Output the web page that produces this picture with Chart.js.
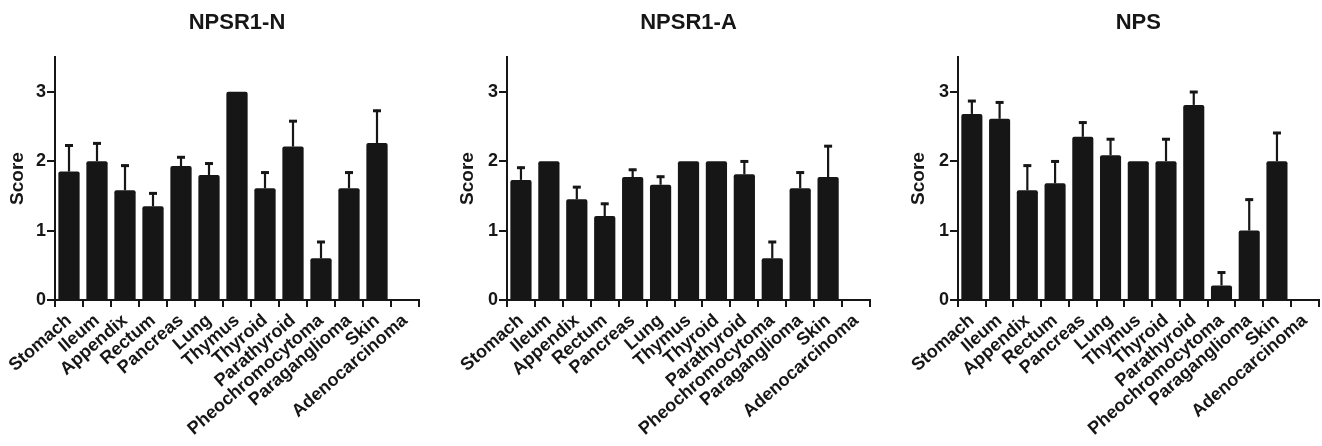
<!DOCTYPE html>
<html>
<head>
<meta charset="utf-8">
<script src="https://cdn.jsdelivr.net/npm/chart.js@4.4.0/dist/chart.umd.min.js"></script>
<style>
  body { margin: 0; background: #fff; }
  .panel { position: absolute; top: 0; height: 446px; }
</style>
</head>
<body>
<div class="panel" style="left:0;width:440px"><canvas id="npsr1n"></canvas></div>
<div class="panel" style="left:440px;width:440px"><canvas id="npsr1a"></canvas></div>
<div class="panel" style="left:880px;width:442px"><canvas id="nps"></canvas></div>
<script>
// Tissue categories
const categories = ["Stomach", "Ileum", "Appendix", "Rectum", "Pancreas", "Lung", "Thymus",
                    "Thyroid", "Parathyroid", "Pheochromocytoma", "Paraganglioma", "Skin", "Adenocarcinoma"];

// Mean scores and SEM (upper error bar) per receptor / peptide
const npsr1nMean = [1.85, 2.0, 1.58, 1.35, 1.93, 1.8, 3.0, 1.61, 2.21, 0.6, 1.61, 2.26, null];
const npsr1nSem  = [0.39, 0.27, 0.37, 0.2, 0.14, 0.18, 0, 0.24, 0.38, 0.25, 0.24, 0.48, 0];
const npsr1aMean = [1.73, 2.0, 1.45, 1.21, 1.77, 1.66, 2.0, 2.0, 1.81, 0.6, 1.61, 1.77, null];
const npsr1aSem  = [0.19, 0, 0.19, 0.19, 0.12, 0.13, 0, 0, 0.2, 0.25, 0.24, 0.46, 0];
const npsMean    = [2.68, 2.61, 1.58, 1.68, 2.35, 2.085, 2.0, 2.0, 2.81, 0.21, 1.0, 2.0, null];
const npsSem     = [0.2, 0.25, 0.37, 0.33, 0.22, 0.245, 0, 0.33, 0.2, 0.2, 0.46, 0.42, 0];

const yTicks = [0, 1, 2, 3];
const yMax = 3.5;

const font = "'Liberation Sans', Arial, Helvetica, sans-serif";
const ink = "#161616";

// Draws the upper SEM whiskers with a cap
const errorBars = {
    id: 'errorBars',
    afterDatasetsDraw(chart) {
        let sem = chart.options.plugins.errorBars.sem;
        let means = chart.data.datasets[0].data;
        let meta = chart.getDatasetMeta(0);
        let y = chart.scales.y;
        let ctx = chart.ctx;
        ctx.save();
        ctx.strokeStyle = ink;
        meta.data.forEach((bar, i) => {
            if (means[i] == null || !sem[i]) return;
            let y0 = y.getPixelForValue(means[i]);
            let y1 = y.getPixelForValue(means[i] + sem[i]);
            ctx.lineWidth = 2.2;
            ctx.beginPath();
            ctx.moveTo(bar.x, y0);
            ctx.lineTo(bar.x, y1);
            ctx.stroke();
            ctx.lineWidth = 3;
            ctx.beginPath();
            ctx.moveTo(bar.x - 4, y1 + 1);
            ctx.lineTo(bar.x + 4, y1 + 1);
            ctx.stroke();
        });
        ctx.restore();
    }
};

function makeChart(id, title, means, sem, padLeft, padRight, yWidth) {
    let ctx = document.getElementById(id).getContext('2d');
    return new Chart(ctx, {
        type: 'bar',
        data: {
            labels: categories,
            datasets: [{
                data: means,
                backgroundColor: ink,
                borderRadius: 2,
                borderSkipped: 'bottom',
                barPercentage: 0.76,
                categoryPercentage: 1.0
            }]
        },
        options: {
            responsive: true,
            maintainAspectRatio: false,
            animation: false,
            layout: { padding: { left: padLeft, right: padRight, top: 0, bottom: 0 } },
            plugins: {
                legend: { display: false },
                tooltip: { enabled: false },
                title: {
                    display: true,
                    text: title,
                    fullSize: false,
                    color: ink,
                    font: { family: font, size: 22, weight: 'bold', lineHeight: 1.2 },
                    padding: { top: 10, bottom: 20.6 }
                },
                errorBars: { sem: sem }
            },
            scales: {
                x: {
                    grid: { display: true, drawOnChartArea: false, drawTicks: true, tickLength: 7, color: ink, lineWidth: 2 },
                    border: { display: true, color: ink, width: 2 },
                    ticks: {
                        color: ink,
                        autoSkip: false,
                        minRotation: 41,
                        maxRotation: 41,
                        padding: 3,
                        font: { family: font, size: 18, weight: 'bold' }
                    },
                    afterFit: scale => { scale.height = 146; }
                },
                y: {
                    min: 0,
                    max: yMax,
                    afterBuildTicks: scale => { scale.ticks = yTicks.map(v => ({ value: v })); },
                    grid: { display: true, drawOnChartArea: false, drawTicks: true, tickLength: 8, color: ink, lineWidth: 2 },
                    border: { display: true, color: ink, width: 2 },
                    ticks: {
                        color: ink,
                        padding: 1,
                        font: { family: font, size: 18, weight: 'bold' }
                    },
                    title: {
                        display: true,
                        text: 'Score',
                        color: ink,
                        padding: { top: 6, bottom: 0 },
                        font: { family: font, size: 19, weight: 'bold' }
                    },
                    afterFit: scale => { scale.width = yWidth; }
                }
            }
        },
        plugins: [errorBars]
    });
}

makeChart('npsr1n', 'NPSR1-N', npsr1nMean, npsr1nSem, 0, 21, 55);
makeChart('npsr1a', 'NPSR1-A', npsr1aMean, npsr1aSem, 10, 10, 57);
makeChart('nps', 'NPS', npsMean, npsSem, 21, 2, 57);
</script>
</body>
</html>
